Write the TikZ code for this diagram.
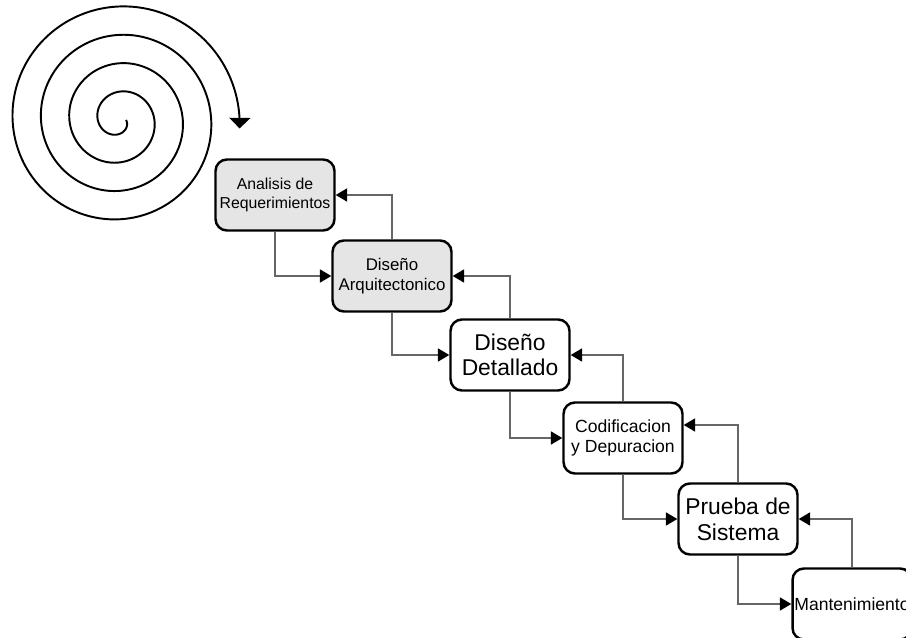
\documentclass[tikz,border=0pt]{standalone}
\usepackage{fontspec}
\setmainfont{Liberation Sans}
\usetikzlibrary{arrows.meta}

\tikzset{
  fase/.style={draw, line width=1.4pt, rounded corners=6.5pt, minimum width=2.38cm,
    minimum height=1.42cm, align=center, inner sep=1pt},
  gris/.style={fase, fill=black!10},
  ida/.style={draw=black!60, line width=0.7pt, -{Triangle[length=6.5pt,width=7.5pt,black]}},
}

\begin{document}
\begin{tikzpicture}[x=0.02cm,y=-0.02cm]
        \clip (0,0) rectangle (906,638);
        % espiral
        \draw[line width=1.1pt, -{Triangle[width=12pt,length=6pt]}]
          plot[domain=0:1444, samples=400, variable=\t, smooth]
          ({119+(7+0.0789*\t)*cos(\t)}, {120+(7+0.0789*\t)*sin(\t)});
        \node[gris, font=\fontsize{9}{10.6}\selectfont] (req) at (275,195) {Analisis de\\Requerimientos};
        \node[gris, font=\fontsize{9.6}{11}\selectfont] (arq) at (392,276) {Diseño\\Arquitectonico};
        \node[fase, font=\fontsize{13}{14.2}\selectfont] (det) at (510,355) {Diseño\\Detallado};
        \node[fase, font=\fontsize{10}{11.3}\selectfont] (cod) at (623,438) {Codificacion\\y Depuracion};
        \node[fase, font=\fontsize{13}{14.7}\selectfont] (pru) at (738,519) {Prueba de\\Sistema};
        \node[fase, font=\fontsize{10}{12}\selectfont] (man) at (852,604) {Mantenimiento};
        \draw[ida] (req.south) |- (arq.west);
        \draw[ida] (arq.north) |- (req.east);
        \draw[ida] (arq.south) |- (det.west);
        \draw[ida] (det.north) |- (arq.east);
        \draw[ida] (det.south) |- (cod.west);
        \draw[ida] (cod.north) |- (det.east);
        \draw[ida] (cod.south) |- (pru.west);
        \draw[ida] (pru.north) |- ([yshift=0.26cm]cod.east);
        \draw[ida] (pru.south) |- (man.west);
        \draw[ida] (man.north) |- (pru.east);
    \end{tikzpicture}
\end{document}
